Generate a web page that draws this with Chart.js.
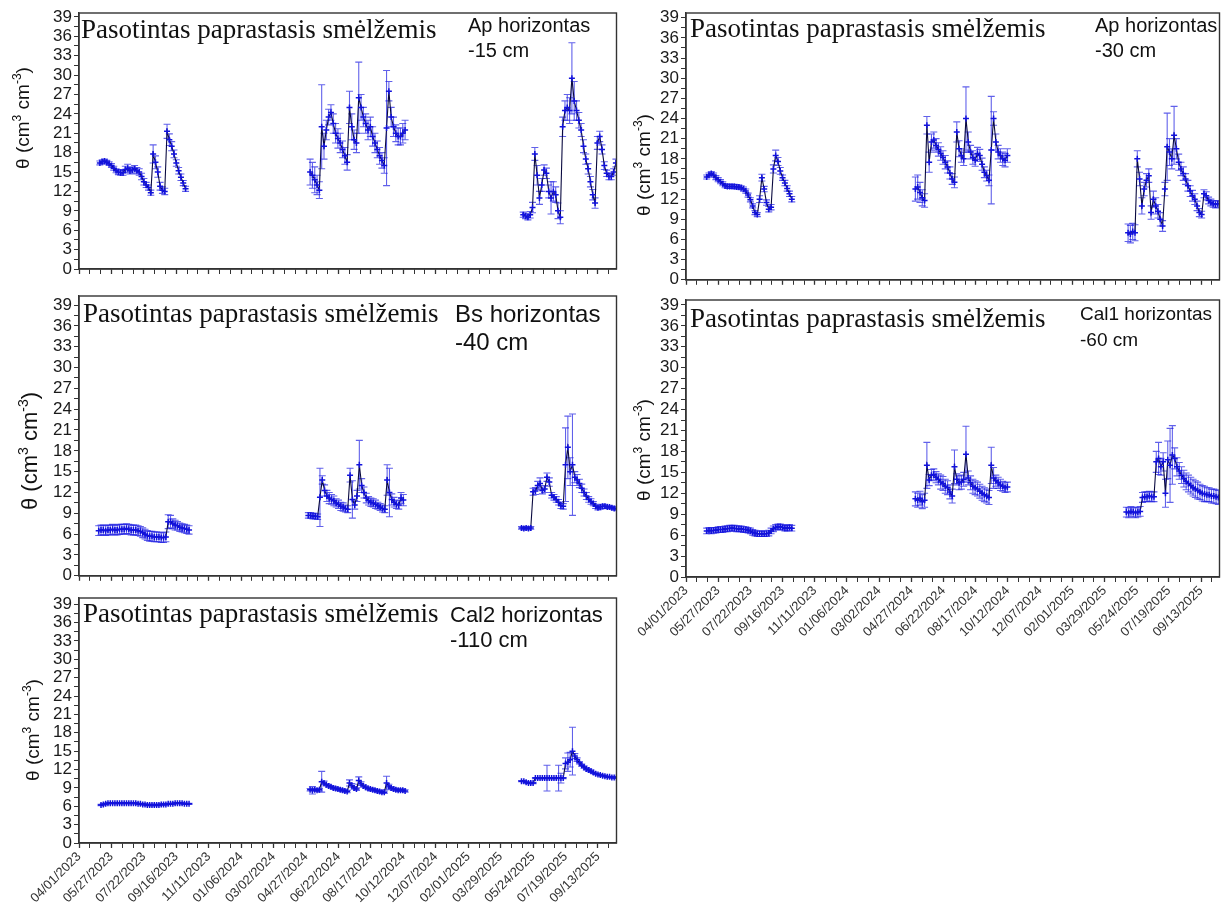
<!DOCTYPE html>
<html>
<head>
<meta charset="utf-8">
<script src="https://cdn.jsdelivr.net/npm/chart.js@4.4.1/dist/chart.umd.min.js"></script>
<style>
  html, body { margin: 0; padding: 0; background: #fff; }
  #wrap { position: relative; width: 1225px; height: 905px; overflow: hidden; }
  canvas { position: absolute; }
</style>
</head>
<body>
<div id="wrap">
  <canvas id="c1"></canvas>
  <canvas id="c2"></canvas>
  <canvas id="c3"></canvas>
  <canvas id="c4"></canvas>
  <canvas id="c5"></canvas>
</div>
<script>
"use strict";

// x values are days since 04/01/2023, one reading every STEP_DAYS days
const STEP_DAYS = 4;
const X_MAX_DAY = 928;

const xTickDays = [0, 56, 112, 168, 224, 280, 336, 392, 448, 504, 560, 616, 672, 728, 784, 840, 896];
const xTickLabels = ['04/01/2023', '05/27/2023', '07/22/2023', '09/16/2023', '11/11/2023', '01/06/2024',
    '03/02/2024', '04/27/2024', '06/22/2024', '08/17/2024', '10/12/2024', '12/07/2024', '02/01/2025',
    '03/29/2025', '05/24/2025', '07/19/2025', '09/13/2025'];
const yTickValues = [0, 3, 6, 9, 12, 15, 18, 21, 24, 27, 30, 33, 36, 39];

// Ap horizontas -15 cm (first day of each measuring season)
const ap15Starts = [36, 399, 767];
const ap15A = [16.4, 16.6, 16.7, 16.5, 16.3, 16.0, 15.6, 15.2, 15.0, 14.9, 14.9, 15.4, 15.6, 15.2, 15.3, 15.5, 15.2, 15.0, 14.3, 13.5,
    13.0, 12.6, 11.8, 17.8, 16.5, 15.0, 12.8, 12.2, 12.0, 21.3, 20.0, 19.0, 17.8, 16.4, 15.2, 14.2, 13.3, 12.4];
const ap15AErr = [0.3, 0.3, 0.3, 0.3, 0.3, 0.3, 0.3, 0.3, 0.4, 0.4, 0.4, 0.5, 0.6, 0.5, 0.5, 0.5, 0.5, 0.5, 0.5, 0.5,
    0.4, 0.4, 0.4, 1.4, 1.0, 0.8, 0.6, 0.5, 0.5, 1.1, 0.9, 0.7, 0.6, 0.5, 0.5, 0.5, 0.4, 0.4];
const ap15B = [15.0, 14.5, 13.8, 13.0, 12.2, 22.0, 19.0, 21.5, 23.5, 24.2, 22.5, 21.0, 20.2, 19.5, 18.5, 17.5, 16.5, 25.0, 22.0, 20.0,
    19.5, 26.5, 25.0, 23.5, 22.5, 21.5, 22.0, 20.5, 19.5, 18.5, 17.5, 16.8, 16.0, 21.8, 27.5, 23.5, 22.0, 21.0, 20.5, 20.5, 21.0, 21.5];
const ap15BErr = [2.0, 2.0, 2.0, 1.5, 1.3, 6.5, 2.0, 1.5, 1.2, 1.2, 1.5, 1.5, 1.5, 1.5, 1.3, 1.3, 1.2, 2.5, 2.0, 1.5,
    1.5, 5.5, 2.0, 1.5, 1.5, 1.5, 1.5, 1.5, 1.5, 1.3, 1.3, 1.2, 1.2, 8.9, 1.5, 1.5, 1.5, 1.3, 1.3, 1.3, 1.5, 1.5];
const ap15C = [8.4, 8.2, 8.0, 8.4, 9.5, 17.8, 14.5, 11.0, 13.0, 15.3, 14.8, 12.0, 11.0, 12.0, 11.5, 9.0, 8.0, 22.0, 24.5, 25.0,
    24.5, 29.5, 26.0, 24.5, 23.0, 21.5, 19.0, 17.0, 15.5, 13.5, 11.5, 10.2, 19.5, 20.5, 18.5, 16.0, 14.8, 14.3, 14.3, 15.0, 16.4];
const ap15CErr = [0.4, 0.4, 0.4, 0.5, 0.8, 1.0, 1.5, 1.0, 1.0, 0.8, 0.8, 1.0, 2.5, 1.5, 1.2, 1.2, 1.0, 1.5, 1.5, 2.0,
    2.0, 5.5, 3.0, 1.5, 1.2, 1.0, 1.0, 0.8, 0.8, 0.8, 0.8, 0.8, 1.0, 0.8, 0.7, 0.6, 0.5, 0.5, 0.5, 0.5, 0.6];

// Ap horizontas -30 cm
const ap30Starts = [36, 399, 769];
const ap30A = [15.3, 15.6, 15.8, 15.6, 15.2, 14.9, 14.6, 14.3, 14.0, 13.9, 13.9, 13.9, 13.9, 13.8, 13.8, 13.7, 13.5, 13.2, 12.6, 11.9,
    11.0, 10.0, 9.7, 12.0, 15.2, 13.5, 11.5, 10.5, 10.8, 16.5, 18.5, 17.6, 16.2, 15.2, 14.4, 13.6, 12.8, 12.0];
const ap30AErr = [0.3, 0.3, 0.3, 0.3, 0.3, 0.3, 0.3, 0.3, 0.3, 0.3, 0.3, 0.3, 0.3, 0.3, 0.3, 0.3, 0.3, 0.3, 0.3, 0.3,
    0.3, 0.3, 0.3, 0.5, 0.5, 0.4, 0.4, 0.4, 0.4, 0.6, 0.8, 0.6, 0.5, 0.4, 0.4, 0.4, 0.4, 0.4];
const ap30B = [13.5, 13.8, 13.0, 12.2, 11.8, 23.0, 17.5, 20.5, 20.8, 20.0, 19.4, 18.8, 18.2, 17.5, 16.8, 15.9, 15.0, 14.5, 22.0, 19.5,
    18.5, 18.0, 24.0, 20.5, 19.0, 18.2, 17.8, 18.8, 18.5, 17.2, 16.0, 15.5, 14.8, 19.3, 24.0, 20.5, 19.0, 18.5, 18.0, 17.8, 18.5];
const ap30BErr = [1.8, 1.8, 1.5, 1.2, 1.0, 1.3, 1.5, 1.2, 1.2, 1.0, 1.0, 1.0, 1.0, 1.0, 0.9, 0.9, 0.8, 0.8, 1.5, 1.2,
    1.0, 1.0, 4.7, 1.5, 1.0, 1.0, 0.9, 0.9, 0.9, 0.9, 0.8, 0.8, 0.8, 8.0, 1.0, 1.2, 1.0, 1.0, 1.0, 1.0, 1.0];
const ap30C = [7.0, 6.8, 7.2, 7.0, 18.0, 15.0, 11.0, 13.5, 14.8, 15.5, 10.0, 12.0, 11.0, 10.2, 9.0, 8.0, 13.5, 19.8, 19.0, 18.0,
    21.5, 19.5, 17.5, 16.5, 15.8, 15.0, 14.0, 13.2, 12.5, 12.0, 11.0, 10.0, 9.7, 12.8, 12.5, 11.8, 11.5, 11.3, 11.2, 11.3];
const ap30CErr = [1.3, 1.3, 1.2, 1.2, 1.2, 1.0, 1.2, 1.0, 1.0, 1.0, 1.0, 1.2, 1.2, 1.0, 1.0, 0.8, 1.0, 5.0, 2.0, 1.5,
    4.3, 1.5, 1.2, 1.0, 1.0, 0.8, 0.8, 0.8, 0.8, 0.8, 0.7, 0.6, 0.5, 0.6, 0.6, 0.5, 0.5, 0.5, 0.5, 0.5];

// Bs horizontas -40 cm
const bs40Starts = [34, 396, 764];
const bs40A = [6.5, 6.6, 6.6, 6.5, 6.6, 6.6, 6.7, 6.6, 6.6, 6.7, 6.7, 6.7, 6.8, 6.7, 6.6, 6.6, 6.6, 6.5, 6.4, 6.2,
    6.0, 5.8, 5.7, 5.7, 5.6, 5.6, 5.6, 5.5, 5.5, 5.6, 7.8, 7.8, 7.5, 7.3, 7.2, 7.0, 6.9, 6.8, 6.7, 6.6];
const bs40AErr = [0.7, 0.7, 0.7, 0.7, 0.7, 0.7, 0.7, 0.7, 0.7, 0.7, 0.7, 0.7, 0.7, 0.7, 0.7, 0.7, 0.7, 0.7, 0.7, 0.7,
    0.7, 0.7, 0.7, 0.7, 0.7, 0.7, 0.7, 0.7, 0.7, 0.7, 1.0, 0.9, 0.7, 0.7, 0.6, 0.6, 0.6, 0.6, 0.6, 0.6];
const bs40B = [8.7, 8.7, 8.6, 8.6, 8.5, 11.3, 13.8, 12.3, 11.5, 11.2, 11.0, 10.8, 10.5, 10.3, 10.0, 9.9, 9.7, 9.6, 14.5, 11.0,
    10.2, 11.5, 16.0, 13.0, 12.0, 11.2, 10.8, 10.6, 10.5, 10.3, 10.1, 9.9, 9.7, 9.6, 13.8, 12.0, 11.0, 10.6, 10.3, 10.2, 11.2, 10.9];
const bs40BErr = [0.4, 0.4, 0.4, 0.4, 0.4, 4.2, 0.6, 0.8, 0.8, 0.8, 0.7, 0.7, 0.6, 0.6, 0.6, 0.6, 0.5, 0.5, 1.0, 2.7,
    0.6, 0.8, 3.5, 1.0, 0.8, 0.7, 0.6, 0.6, 0.6, 0.6, 0.5, 0.5, 0.5, 0.5, 2.2, 3.5, 0.8, 0.7, 0.6, 0.6, 0.8, 0.8];
const bs40C = [6.9, 6.8, 6.9, 6.8, 6.9, 12.1, 12.2, 13.0, 13.3, 12.3, 12.5, 14.2, 13.5, 11.6, 11.3, 11.0, 10.6, 10.1, 10.0, 16.0,
    18.5, 15.0, 16.0, 14.2, 13.8, 13.3, 12.6, 12.0, 11.5, 11.0, 10.7, 10.4, 10.0, 9.8, 9.9, 10.0, 10.0, 9.9, 9.9, 9.8, 9.7, 9.7];
const bs40CErr = [0.2, 0.2, 0.2, 0.2, 0.2, 0.5, 0.5, 0.6, 0.8, 0.5, 0.5, 0.6, 0.6, 0.4, 0.4, 0.4, 0.4, 0.4, 0.4, 5.3,
    4.5, 2.0, 7.3, 0.8, 0.8, 0.6, 0.6, 0.5, 0.5, 0.4, 0.4, 0.3, 0.3, 0.3, 0.3, 0.3, 0.3, 0.2, 0.2, 0.2, 0.2, 0.2];

// Cal1 horizontas -60 cm
const cal60Starts = [36, 399, 766];
const cal60A = [6.6, 6.7, 6.6, 6.7, 6.7, 6.8, 6.8, 6.8, 6.9, 6.9, 7.0, 7.0, 7.0, 6.9, 6.9, 6.9, 6.8, 6.8, 6.7, 6.6,
    6.4, 6.3, 6.2, 6.2, 6.2, 6.2, 6.2, 6.3, 6.6, 6.9, 7.1, 7.2, 7.2, 7.1, 7.0, 7.0, 7.1, 7.0];
const cal60AErr = [0.4, 0.4, 0.4, 0.4, 0.4, 0.4, 0.4, 0.4, 0.4, 0.4, 0.4, 0.4, 0.4, 0.4, 0.4, 0.4, 0.4, 0.4, 0.4, 0.4,
    0.4, 0.4, 0.4, 0.4, 0.4, 0.4, 0.4, 0.4, 0.4, 0.4, 0.4, 0.4, 0.4, 0.4, 0.4, 0.4, 0.4, 0.4];
const cal60B = [11.2, 11.0, 11.3, 10.8, 11.0, 16.0, 13.9, 14.6, 14.7, 14.3, 14.0, 13.6, 13.4, 13.0, 12.8, 12.2, 11.6, 15.8, 14.0, 13.5,
    13.6, 14.0, 17.6, 14.2, 13.5, 13.0, 12.8, 12.6, 12.3, 12.0, 11.8, 11.6, 11.4, 16.0, 14.2, 13.8, 13.5, 13.2, 13.0, 12.8, 12.9];
const cal60BErr = [1.0, 1.0, 1.0, 1.0, 1.0, 3.3, 0.8, 0.8, 0.8, 0.8, 0.8, 1.0, 1.0, 1.0, 1.0, 1.0, 1.0, 2.4, 0.8, 1.0,
    1.0, 1.0, 4.0, 1.0, 1.0, 1.0, 1.0, 1.0, 1.0, 1.0, 1.0, 1.0, 1.0, 2.6, 1.5, 0.8, 0.8, 0.8, 0.7, 0.7, 0.7];
const cal60C = [9.3, 9.2, 9.4, 9.3, 9.2, 9.3, 9.4, 11.4, 11.5, 11.5, 11.6, 11.5, 11.5, 16.5, 17.0, 15.8, 16.5, 12.0, 16.8, 16.0,
    17.5, 17.0, 15.8, 15.2, 14.6, 14.1, 13.7, 13.4, 13.1, 12.8, 12.6, 12.4, 12.2, 12.0, 11.9, 11.8, 11.8, 11.6, 11.6, 11.5, 11.4];
const cal60CErr = [0.7, 0.7, 0.7, 0.7, 0.7, 0.7, 0.7, 0.7, 0.7, 0.7, 0.7, 0.7, 0.7, 1.5, 2.3, 1.2, 1.3, 2.0, 2.7, 5.3,
    4.2, 1.5, 1.3, 1.2, 1.2, 1.2, 1.2, 1.2, 1.2, 1.2, 1.2, 1.2, 1.1, 1.1, 1.1, 1.0, 1.0, 1.0, 1.0, 1.0, 1.0];

// Cal2 horizontas -110 cm
const cal110Starts = [38, 399, 764];
const cal110A = [6.2, 6.3, 6.4, 6.5, 6.5, 6.5, 6.5, 6.5, 6.5, 6.5, 6.5, 6.5, 6.5, 6.5, 6.5, 6.5, 6.4, 6.4, 6.3, 6.3,
    6.2, 6.2, 6.2, 6.2, 6.2, 6.2, 6.3, 6.3, 6.3, 6.4, 6.4, 6.4, 6.5, 6.5, 6.5, 6.5, 6.4, 6.4, 6.4];
const cal110AErr = [0.1, 0.1, 0.1, 0.1, 0.1, 0.1, 0.1, 0.1, 0.1, 0.1, 0.1, 0.1, 0.1, 0.1, 0.1, 0.1, 0.1, 0.1, 0.1, 0.1,
    0.1, 0.1, 0.1, 0.1, 0.1, 0.1, 0.1, 0.1, 0.1, 0.1, 0.1, 0.1, 0.1, 0.1, 0.1, 0.1, 0.1, 0.1, 0.1];
const cal110B = [8.7, 8.6, 8.7, 8.6, 8.7, 10.0, 9.8, 9.5, 9.3, 9.2, 9.0, 8.9, 8.8, 8.7, 8.6, 8.5, 8.4, 9.8, 9.4, 9.0,
    8.8, 10.2, 9.7, 9.3, 9.1, 8.9, 8.8, 8.7, 8.6, 8.5, 8.4, 8.3, 8.3, 9.8, 9.3, 9.0, 8.8, 8.7, 8.6, 8.6, 8.6, 8.5];
const cal110BErr = [0.2, 0.6, 0.2, 0.2, 0.2, 1.7, 0.3, 0.2, 0.2, 0.2, 0.2, 0.2, 0.2, 0.2, 0.2, 0.2, 0.2, 0.5, 0.3, 0.2,
    0.2, 0.6, 0.3, 0.2, 0.2, 0.2, 0.2, 0.2, 0.2, 0.2, 0.2, 0.2, 0.2, 1.1, 0.3, 0.2, 0.2, 0.2, 0.2, 0.2, 0.2, 0.2];
const cal110C = [10.1, 10.1, 9.9, 9.8, 9.8, 9.8, 10.6, 10.6, 10.6, 10.6, 10.6, 10.6, 10.6, 10.6, 10.6, 10.6, 10.6, 10.6, 10.6, 13.0,
    13.2, 13.6, 15.0, 14.2, 13.6, 13.1, 12.7, 12.4, 12.1, 11.9, 11.7, 11.5, 11.3, 11.2, 11.1, 11.0, 10.9, 10.8, 10.8, 10.7, 10.7, 10.7];
const cal110CErr = [0.1, 0.1, 0.1, 0.1, 0.1, 0.1, 0.1, 0.1, 0.1, 0.1, 0.1, 2.1, 0.1, 0.1, 0.1, 0.1, 2.1, 0.8, 0.1, 0.9,
    1.5, 1.2, 3.9, 0.4, 0.3, 0.2, 0.2, 0.2, 0.2, 0.2, 0.2, 0.1, 0.1, 0.1, 0.1, 0.1, 0.1, 0.1, 0.1, 0.1, 0.1, 0.1];

const SOIL_TITLE = 'Pasotintas paprastasis smėlžemis';
const SANS = "'Liberation Sans', Arial, sans-serif";
const SERIF = "'Liberation Serif', 'Times New Roman', serif";

// layout of each panel (canvas box, axis sizes, text spots in canvas coordinates)
const panels = [
    { id: 'c1', left: 0, top: 0, w: 622, h: 285, yAxisW: 79, padTop: 13, padRight: 5, xAxisH: 16, yMax: 39.6, dates: false,
      starts: ap15Starts, values: [ap15A, ap15B, ap15C], errors: [ap15AErr, ap15BErr, ap15CErr],
      title: [81, 38, 27], label: ['Ap horizontas', '-15 cm', 468, 32, 57, 20], yTitle: [22, 118, 19], tickFont: 17 },
    { id: 'c2', left: 606, top: 0, w: 619, h: 292, yAxisW: 80, padTop: 13, padRight: 2, xAxisH: 12, yMax: 39.7, dates: false,
      starts: ap30Starts, values: [ap30A, ap30B, ap30C], errors: [ap30AErr, ap30BErr, ap30CErr],
      title: [84, 37, 27], label: ['Ap horizontas', '-30 cm', 489, 32, 57, 20], yTitle: [37, 165, 19], tickFont: 17 },
    { id: 'c3', left: 0, top: 283, w: 622, h: 305, yAxisW: 79, padTop: 13, padRight: 5, xAxisH: 12, yMax: 40.3, dates: false,
      starts: bs40Starts, values: [bs40A, bs40B, bs40C], errors: [bs40AErr, bs40BErr, bs40CErr],
      title: [83, 39, 27], label: ['Bs horizontas', '-40 cm', 455, 39, 67, 24], yTitle: [29, 168, 22], tickFont: 17 },
    { id: 'c4', left: 606, top: 287, w: 619, h: 380, yAxisW: 80, padTop: 13, padRight: 2, xAxisH: 90, yMax: 39.7, dates: true,
      starts: cal60Starts, values: [cal60A, cal60B, cal60C], errors: [cal60AErr, cal60BErr, cal60CErr],
      title: [84, 40, 27], label: ['Cal1 horizontas', '-60 cm', 474, 33, 59, 19], yTitle: [37, 163, 19], tickFont: 17 },
    { id: 'c5', left: 0, top: 585, w: 622, h: 320, yAxisW: 79, padTop: 13, padRight: 5, xAxisH: 62, yMax: 40.0, dates: true,
      starts: cal110Starts, values: [cal110A, cal110B, cal110C], errors: [cal110AErr, cal110BErr, cal110CErr],
      title: [83, 37, 27], label: ['Cal2 horizontas', '-110 cm', 450, 37, 62, 22], yTitle: [32, 145, 19], tickFont: 17 }
];

// theta axis title with real superscripts, drawn rotated
function drawYTitle(ctx, cx, cy, size) {
    const parts = [['θ (cm', false], ['3', true], [' cm', false], ['-3', true], [')', false]];
    const big = size + 'px ' + SANS;
    const small = Math.round(size * 0.62) + 'px ' + SANS;
    ctx.save();
    ctx.translate(cx, cy);
    ctx.rotate(-Math.PI / 2);
    let total = 0;
    parts.forEach(p => { ctx.font = p[1] ? small : big; total += ctx.measureText(p[0]).width; });
    let x = -total / 2;
    const base = size * 0.36;
    ctx.fillStyle = '#111';
    ctx.textBaseline = 'alphabetic';
    ctx.textAlign = 'left';
    parts.forEach(p => {
        ctx.font = p[1] ? small : big;
        ctx.fillText(p[0], x, p[1] ? base - size * 0.42 : base);
        x += ctx.measureText(p[0]).width;
    });
    ctx.restore();
}

const panelDecor = {
    id: 'panelDecor',
    beforeDatasetsDraw(chart) {
        // error bars under the line
        const ctx = chart.ctx, area = chart.chartArea, ys = chart.scales.y;
        ctx.save();
        ctx.beginPath();
        ctx.rect(area.left, area.top, area.right - area.left, area.bottom - area.top);
        ctx.clip();
        ctx.strokeStyle = 'rgba(30,30,225,0.7)';
        ctx.lineWidth = 1.1;
        chart.data.datasets.forEach((ds, di) => {
            const meta = chart.getDatasetMeta(di);
            ds.errors.forEach((e, i) => {
                const pt = meta.data[i];
                const v = ds.data[i].y;
                const top = ys.getPixelForValue(v + e), bot = ys.getPixelForValue(v - e);
                ctx.beginPath();
                ctx.moveTo(pt.x, top); ctx.lineTo(pt.x, bot);
                ctx.moveTo(pt.x - 3.5, top); ctx.lineTo(pt.x + 3.5, top);
                ctx.moveTo(pt.x - 3.5, bot); ctx.lineTo(pt.x + 3.5, bot);
                ctx.stroke();
            });
        });
        ctx.restore();
    },
    afterDraw(chart) {
        const ctx = chart.ctx, area = chart.chartArea, p = chart.options.plugins.panelDecor.panel;
        // frame
        ctx.save();
        ctx.strokeStyle = '#333';
        ctx.lineWidth = 1.4;
        ctx.strokeRect(area.left, area.top, area.right - area.left, area.bottom - area.top);
        // texts
        ctx.fillStyle = '#111';
        ctx.textAlign = 'left';
        ctx.textBaseline = 'alphabetic';
        ctx.font = p.title[2] + 'px ' + SERIF;
        ctx.fillText(SOIL_TITLE, p.title[0], p.title[1]);
        ctx.font = p.label[5] + 'px ' + SANS;
        ctx.fillText(p.label[0], p.label[2], p.label[3]);
        ctx.fillText(p.label[1], p.label[2], p.label[4]);
        ctx.restore();
        drawYTitle(ctx, p.yTitle[0], p.yTitle[1], p.yTitle[2]);
    }
};

function buildXTicks(scale) {
    const ticks = [];
    const gap = xTickDays[1] - xTickDays[0];
    xTickDays.forEach((d, i) => {
        ticks.push({ value: d, isMajor: true, label: xTickLabels[i] });
        [1, 2].forEach(k => {
            const m = d + gap * k / 3;
            if (m <= X_MAX_DAY) ticks.push({ value: m, isMajor: false });
        });
    });
    scale.ticks = ticks;
}

function buildYTicks(scale) {
    const ticks = [];
    yTickValues.forEach(v => {
        ticks.push({ value: v, isMajor: true });
        if (v + 1.5 <= scale.max) ticks.push({ value: v + 1.5, isMajor: false });
    });
    scale.ticks = ticks;
}

function makeChart(p) {
    const canvas = document.getElementById(p.id);
    canvas.width = p.w;
    canvas.height = p.h;
    canvas.style.left = p.left + 'px';
    canvas.style.top = p.top + 'px';

    const datasets = p.values.map((vals, si) => ({
        data: vals.map((v, i) => ({ x: p.starts[si] + i * STEP_DAYS, y: v })),
        errors: p.errors[si],
        borderColor: '#0a0a40',
        borderWidth: 1.1,
        pointStyle: 'cross',
        pointRadius: 3,
        pointBorderColor: '#1212dc',
        pointBorderWidth: 1.5,
        tension: 0
    }));

    return new Chart(canvas.getContext('2d'), {
        type: 'line',
        data: { datasets: datasets },
        options: {
            responsive: false,
            animation: false,
            devicePixelRatio: 1,
            layout: { padding: { top: p.padTop, right: p.padRight, left: 0, bottom: 0 } },
            plugins: {
                legend: { display: false },
                tooltip: { enabled: false },
                panelDecor: { panel: p }
            },
            scales: {
                x: {
                    type: 'linear',
                    min: 0,
                    max: X_MAX_DAY,
                    afterBuildTicks: buildXTicks,
                    afterFit: s => { s.height = p.xAxisH; },
                    grid: { drawOnChartArea: false, drawTicks: true, tickLength: 5, tickColor: '#333',
                            tickWidth: c => (c.tick && c.tick.isMajor ? 1.3 : 1) },
                    border: { color: '#333', width: 1.4 },
                    ticks: {
                        display: p.dates,
                        autoSkip: false,
                        minRotation: 45,
                        maxRotation: 45,
                        padding: 1,
                        color: '#333',
                        font: { family: SANS, size: 13 },
                        callback: (v, i, ticks) => (ticks[i].isMajor ? ticks[i].label : '')
                    }
                },
                y: {
                    min: 0,
                    max: p.yMax,
                    afterBuildTicks: buildYTicks,
                    afterFit: s => { s.width = p.yAxisW; },
                    grid: { drawOnChartArea: false, drawTicks: true, tickLength: 5, tickColor: '#333' },
                    border: { color: '#333', width: 1.4 },
                    ticks: {
                        autoSkip: false,
                        padding: 2,
                        color: '#1a1a1a',
                        font: { family: SANS, size: p.tickFont },
                        callback: (v, i, ticks) => (ticks[i].isMajor ? String(v) : '')
                    }
                }
            }
        },
        plugins: [panelDecor]
    });
}

panels.forEach(makeChart);
</script>
</body>
</html>
